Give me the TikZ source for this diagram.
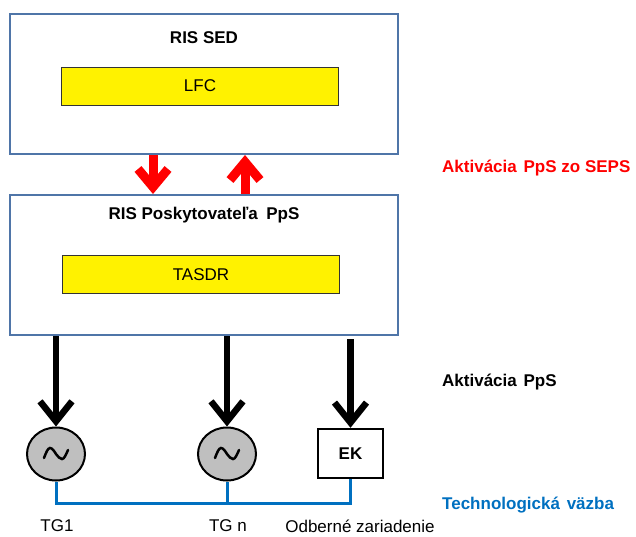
\documentclass[tikz,border=0pt]{standalone}
\usepackage{fontspec}
\setmainfont{Liberation Sans}
\usetikzlibrary{arrows.meta,calc,shapes.geometric}
\definecolor{boxblue}{RGB}{79,117,168}
\definecolor{busblue}{RGB}{0,112,192}
\definecolor{gengray}{RGB}{191,191,191}
\begin{document}
\begin{tikzpicture}
[x=1pt,y=-1pt,
  textdecorate/.style={font=\fontsize{17}{20}\selectfont},%
  titledecorate/.style={textdecorate,font=\fontsize{17}{20}\selectfont\bfseries},%
  outerdecorate/.style={draw=boxblue,line width=2pt,minimum width=388pt,minimum height=140pt},%
  innerdecorate/.style={draw=black!80,fill=yellow,line width=1pt,minimum width=277pt,minimum height=38pt,textdecorate},%
  gendecorate/.style={ellipse,draw,fill=gengray,line width=2pt,minimum width=58pt,minimum height=53pt,inner sep=0pt},%
  ekdecorate/.style={draw,line width=2.5pt,minimum width=65pt,minimum height=49pt,titledecorate},%
  sidedecorate/.style={anchor=west,inner sep=0pt,titledecorate},%
  redarrow/.style={red,line width=9pt,-{Straight Barb[length=18pt,width=30pt]}},%
  blackarrow/.style={black,line width=6.5pt,-{Straight Barb[length=20pt,width=32pt]}},%
  busdecorate/.style={busblue,line width=3pt},%
  wavedecorate/.style={line width=2.5pt,line cap=round}]
\useasboundingbox (0,0) rectangle (636,536);
%% system boxes
\node (sed) at (204,84) [outerdecorate] {};
\node (sedtitle) at (204,38) [titledecorate] {RIS SED};
\node (lfc) at (200,86) [innerdecorate] {LFC};
\node (pps) at (204,265) [outerdecorate] {};
\node (ppstitle) at (204,215) [titledecorate] {RIS Poskytovateľa\hspace{0.5em}PpS};
\node (tasdr) at (201,274.5) [innerdecorate] {TASDR};
%% units
\node (tg1) at (56,454) [gendecorate] {};
\node (tgn) at (227,454) [gendecorate] {};
\node (ek) at (350.5,453.5) [ekdecorate] {EK};
\foreach \g in {tg1, tgn} {
  \draw[wavedecorate] (\g) ++(-12,4) sin ++(6,-10) cos ++(6,6) sin ++(6,5) cos ++(6,-9);
}
%% labels
\node (tg1label) at (57,526) [textdecorate,inner sep=0pt] {TG1};
\node (tgnlabel) at (228,526) [textdecorate,inner sep=0pt] {TG n};
\node (eklabel) at (360,526) [textdecorate,inner sep=0pt] {Odberné zariadenie};
\node (seps) at (442,168) [sidedecorate,red] {Aktivácia\hspace{0.4em}PpS zo SEPS};
\node (act) at (442,382) [sidedecorate] {Aktivácia\hspace{0.4em}PpS};
\node (tech) at (442,505) [sidedecorate,busblue] {Technologická\hspace{0.4em}väzba};
%% arrows
\draw[redarrow] ([xshift=-51pt]sed.south) -- ([xshift=-51pt]pps.north);
\draw[redarrow] ([xshift=41pt]pps.north) -- ([xshift=41pt]sed.south);
\foreach \g in {tg1, tgn} {
  \draw[blackarrow] (pps.south -| \g) -- (\g.north);
}
\draw[blackarrow] ([yshift=-3pt]pps.south -| ek) -- (ek.north);
%% technological link
\coordinate (bus) at (56,503);
\draw[busdecorate] (tg1.south) -- (tg1.south |- bus) -- (ek.south |- bus) -- (ek.south);
\draw[busdecorate] (tgn.south) -- (tgn.south |- bus);
\end{tikzpicture}
\end{document}
